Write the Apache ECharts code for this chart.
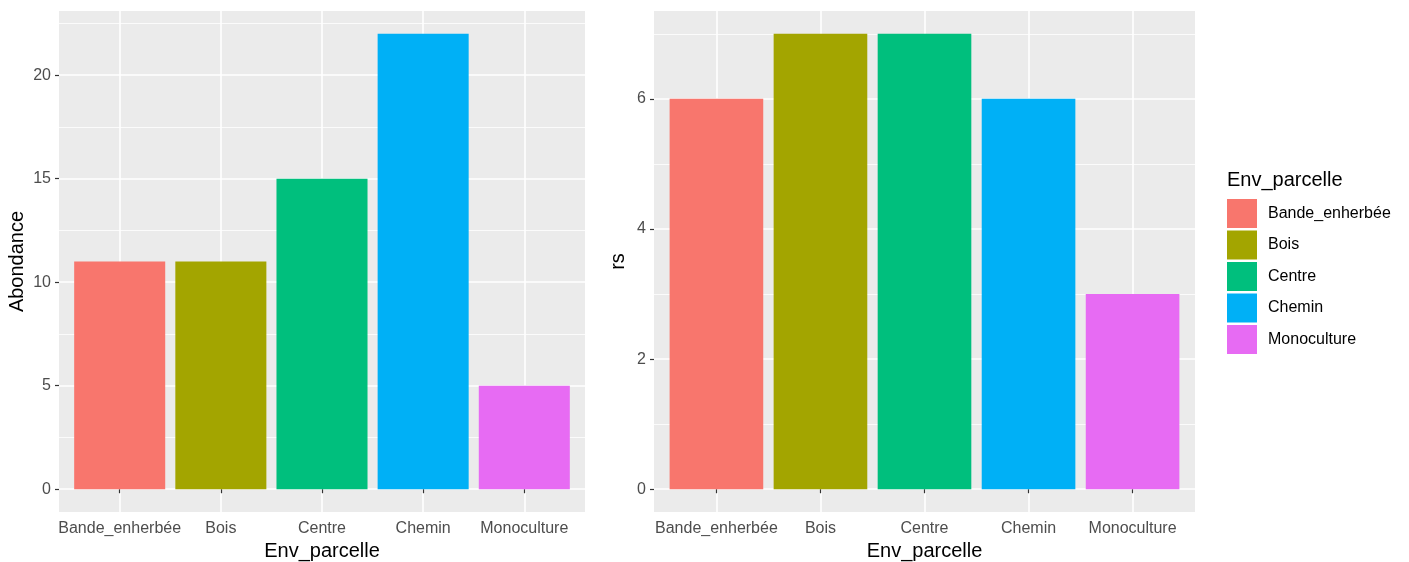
<!DOCTYPE html>
<html>
<head>
<meta charset="utf-8">
<script src="https://cdn.jsdelivr.net/npm/echarts@6/dist/echarts.min.js"></script>
<style>html,body{margin:0;padding:0;background:#fff;}#c{width:1409px;height:562px;}</style>
</head>
<body>
<div id="c"></div>
<script>
const categories = ['Bande_enherbée', 'Bois', 'Centre', 'Chemin', 'Monoculture'];
const abondance = [11, 11, 15, 22, 5];
const rs = [6, 7, 7, 6, 3];
const colors = ['#F8766D', '#A3A500', '#00BF7D', '#00B0F6', '#E76BF3'];
const leftTicks = [0, 5, 10, 15, 20];
const leftMinor = [2.5, 7.5, 12.5, 17.5, 22.5];
const rightTicks = [0, 2, 4, 6];
const rightMinor = [1, 3, 5, 7];
const catPos = categories.map((c, i) => i + 1);

const font = 'Liberation Sans, Arial, sans-serif';
const chart = echarts.init(document.getElementById('c'), null, {renderer: 'canvas'});

function xAxis(gridIndex) {
  return {
    type: 'value', gridIndex, min: 0.4, max: 5.6,
    name: 'Env_parcelle', nameLocation: 'middle', nameGap: 28,
    nameTextStyle: {fontFamily: font, fontSize: 20, color: '#000'},
    axisLine: {show: false},
    axisTick: {show: true, length: 4, customValues: catPos, lineStyle: {color: '#333', width: 1.2}},
    axisLabel: {customValues: catPos, margin: 9, fontFamily: font, fontSize: 16, color: '#4D4D4D',
      formatter: v => categories[Math.round(v) - 1]},
    splitLine: {show: true, lineStyle: {color: '#fff', width: 1.6}}
  };
}
function yMajor(gridIndex, min, max, ticks, name, gap) {
  return {
    type: 'value', gridIndex, min, max, position: 'left',
    name, nameLocation: 'middle', nameGap: gap,
    nameTextStyle: {fontFamily: font, fontSize: 20, color: '#000'},
    axisLine: {show: false},
    axisTick: {show: true, length: 4, customValues: ticks, lineStyle: {color: '#333', width: 1.2}},
    axisLabel: {customValues: ticks, margin: 8, fontFamily: font, fontSize: 16, color: '#4D4D4D'},
    splitLine: {show: true, lineStyle: {color: '#fff', width: 1.6}}
  };
}
function yMinor(gridIndex, min, max, ticks) {
  return {
    type: 'value', gridIndex, min, max, position: 'left',
    axisLine: {show: false},
    axisTick: {show: false, customValues: ticks},
    axisLabel: {show: false, customValues: ticks},
    splitLine: {show: true, lineStyle: {color: '#fff', width: 0.8}}
  };
}

const series = [];
categories.forEach((c, i) => {
  series.push({
    type: 'bar', name: c, xAxisIndex: 0, yAxisIndex: 1, stack: 'L', barWidth: '90%',
    itemStyle: {color: colors[i]}, data: [[catPos[i], abondance[i]]], silent: true
  });
});
categories.forEach((c, i) => {
  series.push({
    type: 'bar', name: c, xAxisIndex: 1, yAxisIndex: 3, stack: 'R', barWidth: '90%',
    itemStyle: {color: colors[i]}, data: [[catPos[i], rs[i]]], silent: true
  });
});

chart.setOption({
  animation: false,
  backgroundColor: '#fff',
  grid: [
    {left: 59, top: 11, width: 526, height: 501, show: true, backgroundColor: '#EBEBEB', borderWidth: 0, containLabel: false, outerBoundsMode: 'none'},
    {left: 654, top: 11, width: 541, height: 501, show: true, backgroundColor: '#EBEBEB', borderWidth: 0, containLabel: false, outerBoundsMode: 'none'}
  ],
  xAxis: [xAxis(0), xAxis(1)],
  yAxis: [
    yMinor(0, -1.1, 23.1, leftMinor),
    yMajor(0, -1.1, 23.1, leftTicks, 'Abondance', 32),
    yMinor(1, -0.35, 7.35, rightMinor),
    yMajor(1, -0.35, 7.35, rightTicks, 'rs', 26)
  ],
  title: {
    text: 'Env_parcelle', left: 1227, top: 170, padding: 0,
    textStyle: {fontFamily: font, fontSize: 20, fontWeight: 'normal', color: '#000'}
  },
  legend: {
    orient: 'vertical', left: 1227, top: 199,
    itemWidth: 30, itemHeight: 29, itemGap: 2.5, icon: 'rect',
    padding: 0,
    data: categories,
    textStyle: {fontFamily: font, fontSize: 16, color: '#000', padding: [0, 0, 0, 6]}
  },
  series
});
</script>
</body>
</html>
